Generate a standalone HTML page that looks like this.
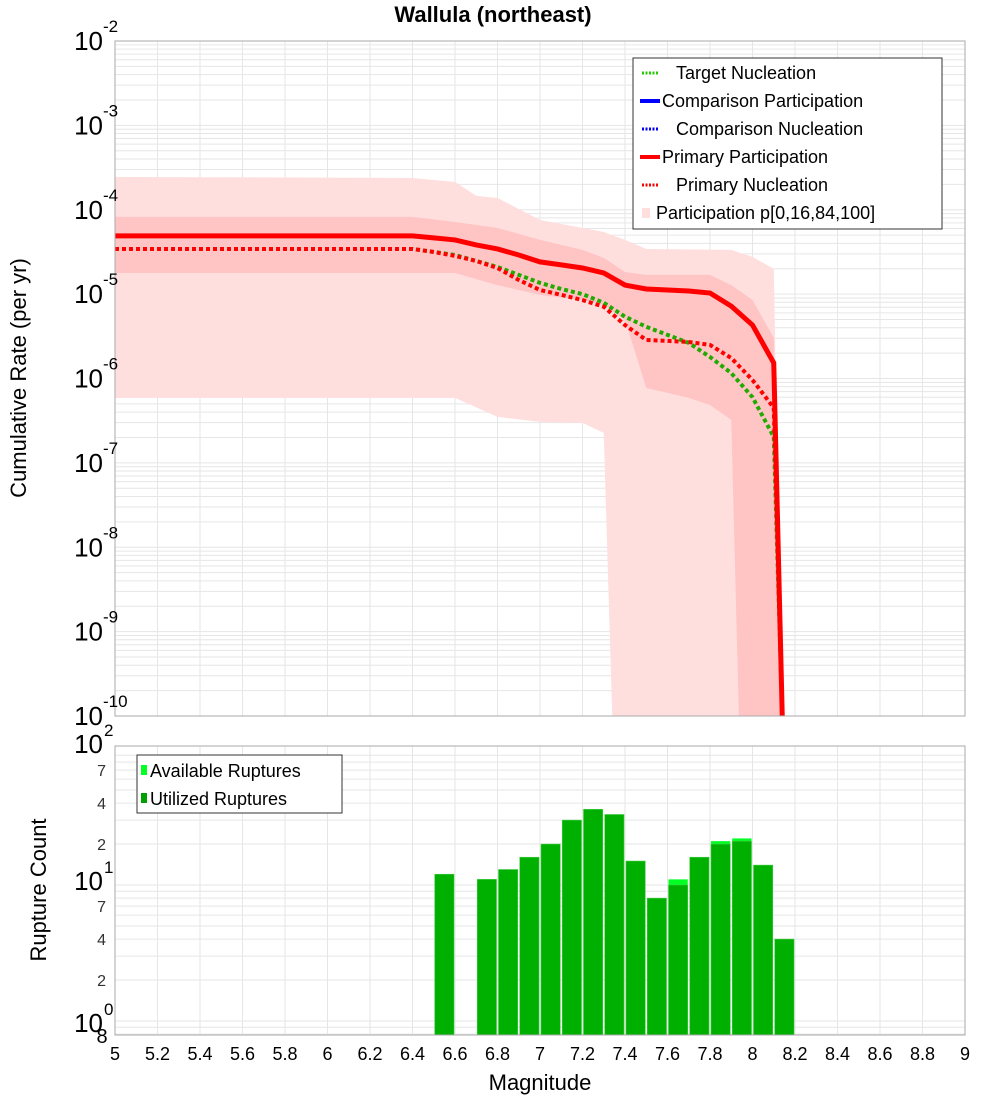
<!DOCTYPE html>
<html><head><meta charset="utf-8"><style>
html,body{margin:0;padding:0;background:#fff;}
svg{display:block;font-family:"Liberation Sans","DejaVu Sans",sans-serif;}
</style></head><body>
<svg id="chart" width="1000" height="1100" viewBox="0 0 1000 1100" xmlns="http://www.w3.org/2000/svg">
<text x="493" y="22" text-anchor="middle" font-size="22" font-weight="bold">Wallula (northeast)</text>
<g id="topPlot"></g>
<g id="botPlot"></g>
<text transform="translate(26,378) rotate(-90)" text-anchor="middle" font-size="22">Cumulative Rate (per yr)</text>
<text transform="translate(46,890) rotate(-90)" text-anchor="middle" font-size="22">Rupture Count</text>
<text x="540" y="1090" text-anchor="middle" font-size="22">Magnitude</text>
</svg>
<script>
// ---- data ----
const primaryPartM = [5, 6.4, 6.5, 6.6, 6.7, 6.8, 6.9, 7.0, 7.1, 7.2, 7.3, 7.4, 7.5, 7.6, 7.7, 7.8, 7.9, 8.0, 8.1, 8.14];
const primaryPart = [4.9e-5, 4.9e-5, 4.64e-5, 4.39e-5, 3.83e-5, 3.43e-5, 2.91e-5, 2.41e-5, 2.22e-5, 2.04e-5, 1.78e-5, 1.28e-5, 1.15e-5, 1.12e-5, 1.09e-5, 1.03e-5, 7.2e-6, 4.3e-6, 1.53e-6, 1e-10];
const nuclM = [5, 6.4, 6.5, 6.6, 6.7, 6.8, 6.9, 7.0, 7.1, 7.2, 7.3, 7.4, 7.5, 7.6, 7.7, 7.8, 7.9, 8.0, 8.1, 8.14];
const targetNucl = [3.43e-5, 3.43e-5, 3.16e-5, 2.91e-5, 2.47e-5, 2.10e-5, 1.69e-5, 1.36e-5, 1.15e-5, 1.0e-5, 7.9e-6, 5.4e-6, 4.1e-6, 3.29e-6, 2.64e-6, 1.8e-6, 1.16e-6, 6.0e-7, 2.03e-7, 1e-10];
const primaryNucl = [3.43e-5, 3.43e-5, 3.16e-5, 2.84e-5, 2.47e-5, 2.04e-5, 1.47e-5, 1.12e-5, 9.8e-6, 8.5e-6, 7.1e-6, 4.3e-6, 2.86e-6, 2.79e-6, 2.71e-6, 2.5e-6, 1.75e-6, 9.6e-7, 4.5e-7, 1e-10];
const outerUpperM = [5, 6.4, 6.6, 6.7, 6.8, 7.0, 7.2, 7.3, 7.4, 7.5, 7.9, 8.0, 8.1, 8.14];
const outerUpper = [2.45e-4, 2.38e-4, 2.13e-4, 1.46e-4, 1.38e-4, 7.57e-5, 6.08e-5, 5.45e-5, 4.39e-5, 3.43e-5, 3.34e-5, 2.76e-5, 1.99e-5, 1e-10];
const outerLowerM = [5, 6.4, 6.6, 6.8, 7.0, 7.2, 7.3, 7.34];
const outerLower = [5.89e-7, 5.89e-7, 5.89e-7, 3.51e-7, 3.06e-7, 2.98e-7, 2.27e-7, 1e-10];
const innerUpperM = [5, 6.4, 6.6, 6.8, 7.0, 7.2, 7.3, 7.4, 7.5, 7.8, 7.9, 8.0, 8.1, 8.14];
const innerUpper = [8.22e-5, 8.22e-5, 7.16e-5, 6.08e-5, 4.39e-5, 3.34e-5, 2.69e-5, 1.83e-5, 1.69e-5, 1.69e-5, 1.28e-5, 8.53e-6, 3.03e-6, 1e-10];
const innerLowerM = [5, 6.4, 6.6, 6.8, 7.0, 7.2, 7.3, 7.4, 7.5, 7.7, 7.8, 7.9, 7.936];
const innerLower = [1.78e-5, 1.78e-5, 1.78e-5, 1.28e-5, 9.8e-6, 8.5e-6, 7.45e-6, 4.94e-6, 7.74e-7, 5.89e-7, 4.86e-7, 3.23e-7, 1e-10];
const barCenters = [6.55, 6.75, 6.85, 6.95, 7.05, 7.15, 7.25, 7.35, 7.45, 7.55, 7.65, 7.75, 7.85, 7.95, 8.05, 8.15];
const availableCounts = [12, 11, 13, 16, 20, 30, 36, 33, 15, 8, 11, 16, 21, 22, 14, 4];
const utilizedCounts = [12, 11, 13, 16, 20, 30, 36, 33, 15, 8, 10, 16, 20, 21, 14, 4];
const xTicks = ["5","5.2","5.4","5.6","5.8","6","6.2","6.4","6.6","6.8","7","7.2","7.4","7.6","7.8","8","8.2","8.4","8.6","8.8","9"];
const topDecades = [-2,-3,-4,-5,-6,-7,-8,-9,-10];
const botMinorLabels = ["7","4","2","7","4","2"];
const botMinorValues = [70,40,20,7,4,2];

// ---- axes ----
const NS="http://www.w3.org/2000/svg";
const PL=115, PR=965, TT=41, TB=716, BT=746, BB=1035;
const xS = m => PL + (m-5)*(PR-PL)/4;
const yT = v => TT + (-2 - Math.log10(v))*(TB-TT)/8;
const yB = v => 885 - 136*(Math.log10(v)-1);
function mk(tag, attrs, parent){const e=document.createElementNS(NS,tag);for(const k in attrs)e.setAttribute(k,attrs[k]);parent.appendChild(e);return e;}
const topG=document.getElementById('topPlot'), botG=document.getElementById('botPlot');

// grids
const tg=mk('g',{},topG);


for(let d=-10; d<-2; d++){for(let k=1;k<10;k++){const y=yT(k*Math.pow(10,d));mk('line',{x1:PL,x2:PR,y1:y,y2:y,stroke:'#e6e6e6','stroke-width':1},tg);}}
for(let i=0;i<xTicks.length;i++){const x=xS(parseFloat(xTicks[i]));mk('line',{x1:x,x2:x,y1:TT,y2:TB,stroke:'#e6e6e6'},tg);mk('line',{x1:x,x2:x,y1:BT,y2:BB,stroke:'#e6e6e6'},tg);}
const bg=mk('g',{},botG);


for(let d=-1; d<2; d++){for(let k=1;k<10;k++){const y=yB(k*Math.pow(10,d));if(y>=BT&&y<=BB)mk('line',{x1:PL,x2:PR,y1:y,y2:y,stroke:'#e6e6e6'},bg);}}

// bands
function band(mu,vu,ml,vl,fill,name){
  let pts=mu.map((m,i)=>xS(m)+','+Math.min(yT(vu[i]),TB));
  for(let i=ml.length-1;i>=0;i--)pts.push(xS(ml[i])+','+Math.min(yT(vl[i]),TB));
  const p=mk('polygon',{points:pts.join(' '),fill:fill},topG);
  
  
}
band(outerUpperM,outerUpper,outerLowerM,outerLower,'#ffdede','band-p0-p100');
band(innerUpperM,innerUpper,innerLowerM,innerLower,'rgba(255,150,150,0.35)','band-p16-p84');

function line(ms,vs,color,dash,name,w){
  const pts=ms.map((m,i)=>xS(m)+','+Math.min(yT(vs[i]),TB)).join(' ');
  const a={points:pts,fill:'none',stroke:color,'stroke-width':w};
  if(dash)a['stroke-dasharray']=dash;
  const p=mk('polyline',a,topG);
  
  
}
line(nuclM,targetNucl,'#22aa00','4 3','target-nucleation-line',4);
line(primaryPartM,primaryPart,'#ff0000',null,'primary-participation-line',5);
line(nuclM,primaryNucl,'#ff0000','4 3','primary-nucleation-line',4);

// top frame
mk('rect',{x:PL,y:TT,width:PR-PL,height:TB-TT,fill:'none',stroke:'#aaaaaa'},topG);
for(const d of topDecades){
  const y=yT(Math.pow(10,d));
  const t=mk('text',{x:103,y:y+9,'text-anchor':'end','font-size':26},topG);
  t.textContent='10';
  
  
  const s=mk('text',{x:103,y:y-9,'font-size':17},topG);
  s.textContent=String(d);
  
  
}

// top legend
const lg=mk('g',{},topG);


mk('rect',{x:633,y:58,width:309,height:171,fill:'#fff',stroke:'#333'},lg);
const legItems=[["Target Nucleation",'#22cc00',true],["Comparison Participation",'#0000ff',false],["Comparison Nucleation",'#0000ff',true],["Primary Participation",'#ff0000',false],["Primary Nucleation",'#ff0000',true]];
legItems.forEach((it,i)=>{
  const y=73+28*i;
  if(it[2]){mk('line',{x1:642,x2:658,y1:y,y2:y,stroke:it[1],'stroke-width':3,'stroke-dasharray':'2 1.5'},lg);}
  else{mk('line',{x1:640,x2:660,y1:y,y2:y,stroke:it[1],'stroke-width':4},lg);}
  const t=mk('text',{x:it[2]?676:662,y:y+6,'font-size':18},lg);
  t.textContent=it[0];
  
  
});
mk('rect',{x:642,y:208,width:8,height:10,fill:'#ffdede'},lg);
const lt=mk('text',{x:656,y:219,'font-size':18},lg);
lt.textContent='Participation p[0,16,84,100]';



// bars
const bw=(PR-PL)/40;
barCenters.forEach((m,i)=>{
  const x=xS(m)-bw/2+1;
  const ya=Math.max(yB(availableCounts[i]),BT);
  const ra=mk('rect',{x:x,y:ya,width:bw-2,height:BB-ya,fill:'#00ff22'},botG);
  
  
  const yu=Math.max(yB(utilizedCounts[i]),BT);
  const ru=mk('rect',{x:x,y:yu,width:bw-2,height:BB-yu,fill:'#00b000',stroke:'#44cc44','stroke-width':0.6},botG);
  
  
});
mk('rect',{x:PL,y:BT,width:PR-PL,height:BB-BT,fill:'none',stroke:'#aaaaaa'},botG);

// bottom y labels
botMinorLabels.forEach((l,i)=>{
  const t=mk('text',{x:106,y:yB(botMinorValues[i])+6,'text-anchor':'end','font-size':16,fill:'#333'},botG);
  t.textContent=l;
  
  
});
[[2,753],[1,890],[0,1032]].forEach(p=>{
  const t=mk('text',{x:103,y:p[1],'text-anchor':'end','font-size':26},botG);
  t.textContent='10';
  
  
  const s=mk('text',{x:104,y:p[1]-17,'font-size':17},botG);
  s.textContent=String(p[0]);
  
  
});
const e8=mk('text',{x:102,y:1043,'text-anchor':'middle','font-size':20},botG);
e8.textContent='8';



// x tick labels
xTicks.forEach(l=>{
  const t=mk('text',{x:xS(parseFloat(l)),y:1060,'text-anchor':'middle','font-size':18},botG);
  t.textContent=l;
  
  
});

// bottom legend
const bl=mk('g',{},botG);


mk('rect',{x:137,y:755,width:205,height:58,fill:'#fff',stroke:'#333'},bl);
mk('rect',{x:141,y:765,width:6,height:10,fill:'#00ff22'},bl);
mk('rect',{x:141,y:793,width:6,height:10,fill:'#00a000'},bl);
const b1=mk('text',{x:150,y:777,'font-size':18},bl);
b1.textContent='Available Ruptures';


const b2=mk('text',{x:150,y:805,'font-size':18},bl);
b2.textContent='Utilized Ruptures';


</script>
</body></html>
